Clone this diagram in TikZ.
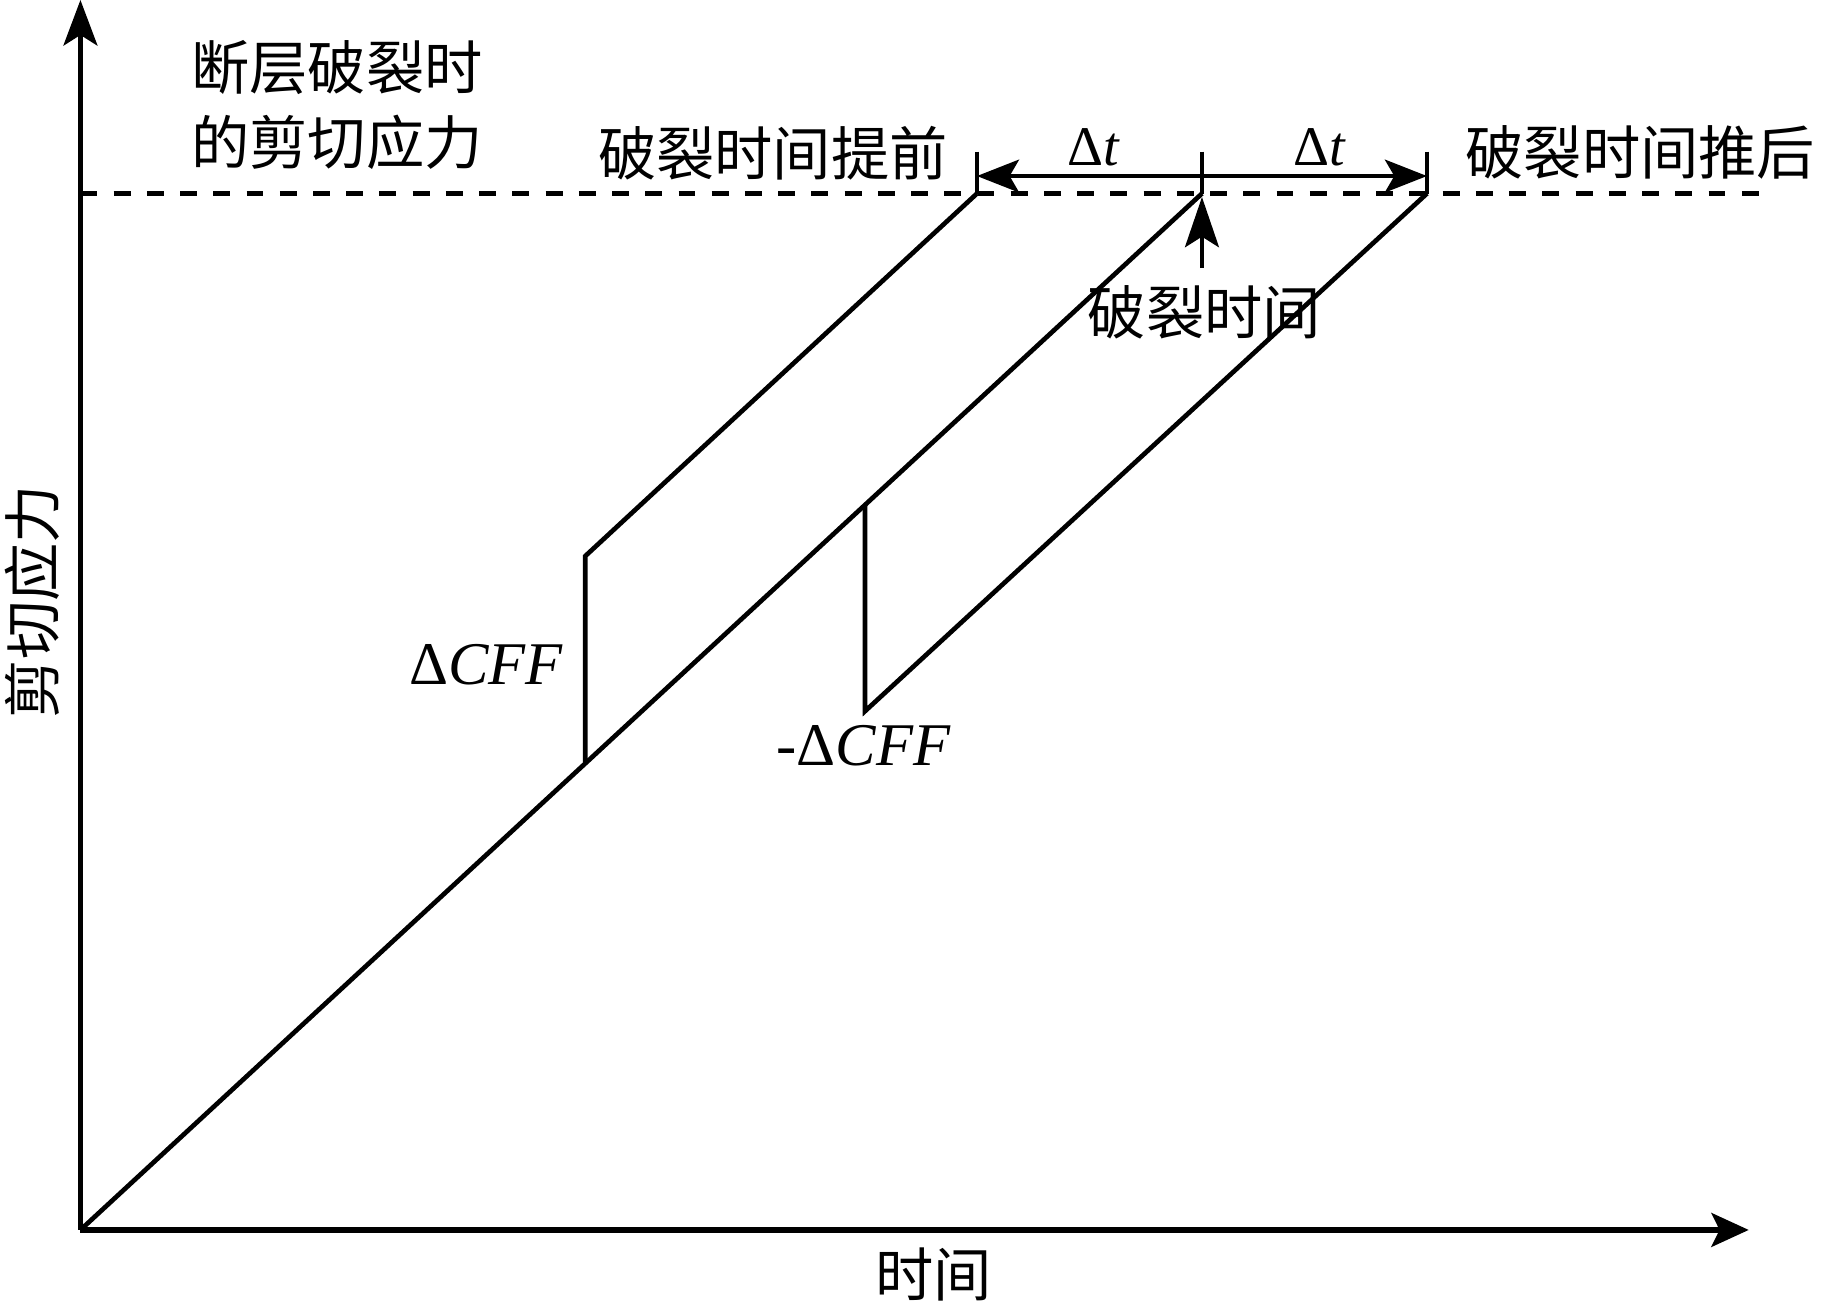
\documentclass[tikz,border=0pt]{standalone}
\usepackage{fontspec}
\setmainfont{Liberation Serif}
\newfontfamily\cjk{Noto Sans CJK SC}
\usetikzlibrary{arrows.meta}
\begin{document}
\begin{tikzpicture}[x=1pt,y=-1pt,
  curve/.style={line width=4pt, line join=miter},
  axisline/.style={line width=4.4pt},
  dashline/.style={line width=3.8pt, dash pattern=on 14.5pt off 14pt},
  headA/.style={-{Stealth[length=36pt,width=28pt,inset=8pt]}},
  cjklabel/.style={font=\cjk\fontsize{50}{64}\selectfont, inner sep=0pt},
  mathlabel/.style={font=\fontsize{52}{60}\selectfont, inner sep=0pt},
  dtlabel/.style={font=\fontsize{48}{54}\selectfont, inner sep=0pt}]
\useasboundingbox (0,0) rectangle (1568,1126);
% key points
\coordinate (O) at (69,1055);
\coordinate (Ytop) at (69,0);
\coordinate (Xend) at (1500,1055);
\coordinate (L0) at (69,166);
\coordinate (Lend) at (1512,166);
\coordinate (Pm) at (1031,166);
\coordinate (Pe) at (838,166);
\coordinate (Pl) at (1224,166);
\coordinate (A1) at (502,654);
\coordinate (A2) at (502,477);
\coordinate (B1) at (742,433);
\coordinate (B2) at (742,610);
\coordinate (Te) at (838,130);
\coordinate (Tm) at (1031,130);
\coordinate (Tl) at (1224,130);
\coordinate (Ae) at (838,151);
\coordinate (Am) at (1031,151);
\coordinate (Al) at (1224,151);
\coordinate (Ub) at (1031,230);
\coordinate (Ut) at (1031,169);
% axes
\draw[axisline, -{Stealth[length=39pt,width=29pt,inset=9pt]}] (O) -- (Ytop);
\draw[axisline, -{Stealth[length=32pt,width=29pt,inset=7pt]}] (O) -- (Xend);
% dashed level
\draw[dashline] (L0) -- (Lend);
% curves
\draw[curve] (O) -- (Pm);
\draw[curve] (A1) -- (A2) -- (Pe);
\draw[curve] (B1) -- (B2) -- (Pl);
% ticks
\draw[curve] (Te) -- (Pe);
\draw[curve] (Tm) -- (Pm);
\draw[curve] (Tl) -- (Pl);
% delta t arrows
\draw[curve, headA] (Am) -- (Ae);
\draw[curve, headA] (Am) -- (Al);
% up arrow
\draw[curve, -{Stealth[length=43pt,width=29pt,inset=9pt]}] (Ub) -- (Ut);
% labels
\node[cjklabel, align=left] (title) at (289,90) {断层破裂时\\的剪切应力};
\node[cjklabel] (early) at (663,131) {破裂时间提前};
\node[cjklabel] (late) at (1407,131) {破裂时间推后};
\node[cjklabel] (rupt) at (1033,268) {破裂时间};
\node[cjklabel] (xlab) at (801,1093) {时间};
\node[cjklabel, rotate=90] (ylab) at (28,516) {剪切应力};
\node[dtlabel] (dt1) at (938,126) {Δ\textit{t}};
\node[dtlabel] (dt2) at (1132,126) {Δ\textit{t}};
\node[mathlabel] (dcff) at (417,570) {Δ\textit{CFF}};
\node[mathlabel] (mdcff) at (741,640) {-Δ\textit{CFF}};
\end{tikzpicture}
\end{document}
